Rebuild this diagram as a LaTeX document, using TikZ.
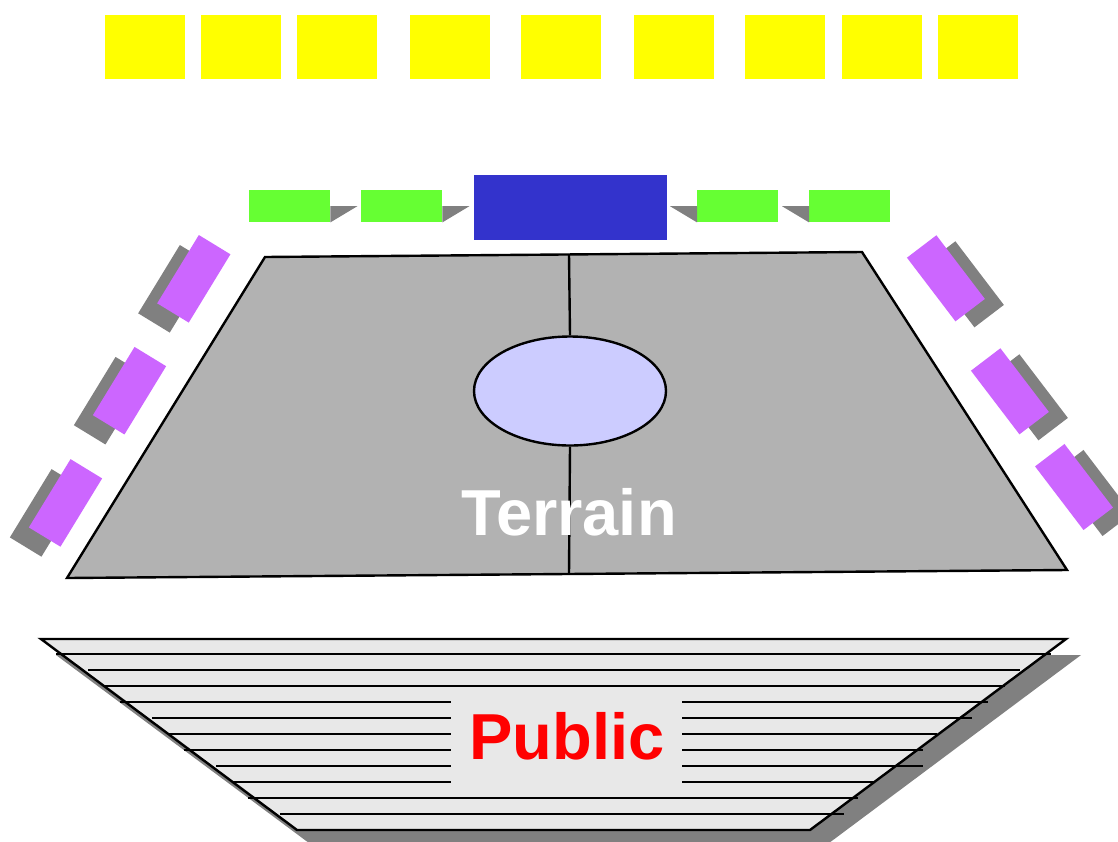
\documentclass[tikz,border=0pt]{standalone}
\usepackage{fontspec}
\setmainfont{Liberation Sans}
\usetikzlibrary{calc,shapes.geometric}
\definecolor{ylw}{HTML}{FFFF00}
\definecolor{grn}{HTML}{66FF33}
\definecolor{blu}{HTML}{3333CC}
\definecolor{prp}{HTML}{CC66FF}
\definecolor{shd}{HTML}{808080}
\definecolor{fieldgray}{HTML}{B2B2B2}
\definecolor{ell}{HTML}{CCCCFF}
\definecolor{pubfill}{HTML}{E8E8E8}
\begin{document}
\begin{tikzpicture}[x=1pt,y=-1pt,
  ybox/.style={rectangle,fill=ylw,inner sep=0pt,minimum width=80pt,minimum height=64pt,anchor=north west},
  gbox/.style={rectangle,fill=grn,inner sep=0pt,minimum width=81pt,minimum height=32pt,anchor=north west},
  bbox/.style={rectangle,fill=blu,inner sep=0pt,minimum width=193pt,minimum height=65pt,anchor=north west},
  pbox/.style={rectangle,fill=prp,inner sep=0pt,minimum width=80pt,minimum height=37pt},
  sbox/.style={rectangle,fill=shd,inner sep=0pt,minimum width=80pt,minimum height=37pt},
  outline/.style={draw=black,line width=2.4pt,line join=miter},
  rule/.style={line width=2.4pt},
  bigtext/.style={font=\fontsize{65}{78}\selectfont\bfseries,inner sep=0pt,anchor=base}
]
\path[use as bounding box] (0,0) rectangle (1118,841);
\fill[white] (0,0) rectangle (1118,841);

% yellow row
\foreach \x [count=\i] in {105,201,297,410,521,634,745,842,938}
  \node[ybox] (y\i) at (\x,15) {};

% green boxes with shadow triangles
\node[gbox] (g1) at (249,190) {};
\node[gbox] (g2) at (361,190) {};
\node[gbox] (g3) at (697,190) {};
\node[gbox] (g4) at (809,190) {};
\node[bbox] (blue) at (474,175) {};
\fill[shd] (g1.east) -- ++(27,0) -- (g1.south east) -- cycle;
\fill[shd] (g2.east) -- ++(27,0) -- (g2.south east) -- cycle;
\fill[shd] (g3.west) -- ++(-27,0) -- (g3.south west) -- cycle;
\fill[shd] (g4.west) -- ++(-27,0) -- (g4.south west) -- cycle;

% purple boxes left
\foreach \cx/\cy [count=\i] in {193.8/278.8, 129.5/390.7, 65.5/502.9}{
  \node[sbox,rotate=58.6] (ls\i) at (\cx-19,\cy+10) {};
  \node[pbox,rotate=58.6] (lp\i) at (\cx,\cy) {};
}
% purple boxes right
\foreach \cx/\cy [count=\i] in {945.9/278.3, 1009.9/391.3, 1074/487}{
  \node[sbox,rotate=-52.7] (rs\i) at (\cx+19,\cy+6) {};
  \node[pbox,rotate=-52.7] (rp\i) at (\cx,\cy) {};
}

% terrain
\filldraw[fill=fieldgray,outline] (265,257) -- (862,252) -- (1067,570) -- (67,578) -- cycle;
\coordinate (ctop) at (569,254.5);
\coordinate (cbot) at (569,574);
\node[ellipse,fill=ell,outline,inner sep=0pt,minimum width=192pt,minimum height=109pt] (field) at (570,391) {};
\draw[rule] (ctop) -- (field.north);
\draw[rule] (field.south) -- (cbot);
\node[bigtext,text=white] (terrain) at (569,535) {Terrain};

% public stand
\fill[shd] (56,655) -- (1081,655) -- (825,846) -- (313,846) -- cycle;
\filldraw[fill=pubfill,outline] (41,639) -- (1066,639) -- (810,830) -- (297,830) -- cycle;
\foreach \yy/\xa/\xb in {654/56/1051, 670/88/1020, 686/104/1005, 702/120/988, 718/152/972,
  734/168/937, 750/184/923, 766/216/923, 782/232/875, 798/248/858, 814/280/844}
  \draw[rule] (\xa,\yy) -- (\xb,\yy);
\fill[pubfill] (451,688) rectangle (682,796);
\node[bigtext,text=red] (public) at (567,759) {Public};
\end{tikzpicture}
\end{document}
